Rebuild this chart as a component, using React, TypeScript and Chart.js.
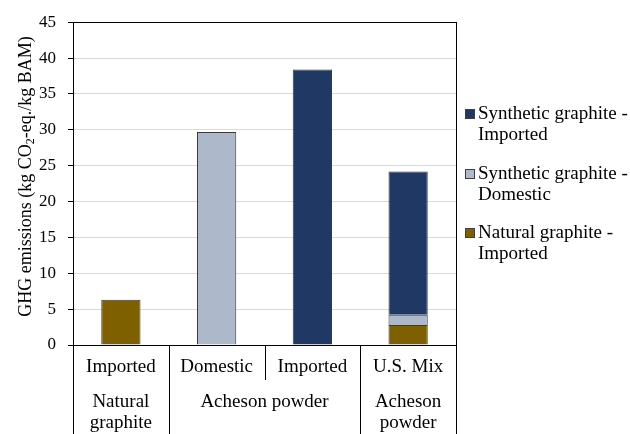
import React, { useEffect, useRef } from 'react';
import { Chart, registerables } from 'chart.js';

Chart.register(...registerables);

// ---- data ----
const categories = ['Imported', 'Domestic', 'Imported', 'U.S. Mix'];
const groupLabels = [['Natural', 'graphite'], ['Acheson powder'], ['Acheson', 'powder']];
const groupFirst = [0, 1, 3];
const groupLast = [0, 2, 3];
const naturalImported = [6.3, null, null, 2.8];
const syntheticDomestic = [null, 29.7, null, 1.4];
const syntheticImported = [null, null, 38.4, 20.0];
const seriesNames = ['Natural graphite - Imported', 'Synthetic graphite - Domestic', 'Synthetic graphite - Imported'];
const legendLines = [['Natural graphite -', 'Imported'], ['Synthetic graphite -', 'Domestic'], ['Synthetic graphite -', 'Imported']];
const yMin = 0;
const yMax = 45;
const yStep = 5;
const yTitleBefore = 'GHG emissions (kg CO';
const yTitleSub = '2';
const yTitleAfter = '-eq./kg BAM)';

const colors = ['#7F6000', '#ADB9CA', '#203864'];
const FONT = '"Liberation Serif", "Times New Roman", serif';

const decorPlugin = {
  id: 'decor',
  afterDraw(chart: any) {
    const { ctx, chartArea } = chart;
    const { left, right, top, bottom } = chartArea;
    const H = chart.height;
    const xs = chart.scales.x;
    const catW = (right - left) / categories.length;
    ctx.save();
    ctx.strokeStyle = '#000';
    ctx.lineWidth = 1;
    const line = (x1: number, y1: number, x2: number, y2: number) => {
      ctx.beginPath();
      ctx.moveTo(x1, y1);
      ctx.lineTo(x2, y2);
      ctx.stroke();
    };
    const a = (v: number) => Math.round(v) + 0.5;
    // frame: top, right, bottom axis
    line(left, a(top), right + 1, a(top));
    line(a(right), top, a(right), H);
    line(left - 5, a(bottom), right + 1, a(bottom));
    line(a(left), bottom, a(left), H);
    // group separators
    for (let g = 0; g < groupFirst.length; g++) {
      const xEnd = xs.getPixelForValue(groupLast[g]) + catW / 2;
      if (g < groupFirst.length - 1) line(a(xEnd), bottom, a(xEnd), H);
      for (let i = groupFirst[g]; i < groupLast[g]; i++) {
        const xb = xs.getPixelForValue(i) + catW / 2;
        line(a(xb), bottom, a(xb), bottom + 35);
      }
    }
    // category labels
    ctx.fillStyle = '#000';
    ctx.textAlign = 'center';
    ctx.textBaseline = 'middle';
    ctx.font = `19px ${FONT}`;
    categories.forEach((c, i) => {
      ctx.fillText(c, xs.getPixelForValue(i), bottom + 22);
    });
    groupLabels.forEach((lines, g) => {
      const cx = (xs.getPixelForValue(groupFirst[g]) + xs.getPixelForValue(groupLast[g])) / 2;
      lines.forEach((t, k) => ctx.fillText(t, cx, bottom + 57 + k * 21));
    });
    // legend (reverse order)
    const entryY = [114, 174, 233];
    const order = [2, 1, 0];
    ctx.textAlign = 'left';
    order.forEach((di, k) => {
      const y = entryY[k];
      ctx.fillStyle = colors[di];
      ctx.fillRect(465, y - 5, 10, 10);
      ctx.strokeStyle = '#404040';
      ctx.strokeRect(465.5, y - 4.5, 9, 9);
      ctx.fillStyle = '#000';
      legendLines[di].forEach((t, j) => ctx.fillText(t, 478, y + j * 21));
    });
    // y title with subscript
    ctx.translate(26, (top + bottom) / 2 - 7);
    ctx.rotate(-Math.PI / 2);
    const mainF = `18px ${FONT}`;
    const subF = `12px ${FONT}`;
    ctx.font = mainF;
    const w1 = ctx.measureText(yTitleBefore).width;
    const w3 = ctx.measureText(yTitleAfter).width;
    ctx.font = subF;
    const w2 = ctx.measureText(yTitleSub).width;
    let x = -(w1 + w2 + w3) / 2;
    ctx.textAlign = 'left';
    ctx.font = mainF;
    ctx.fillText(yTitleBefore, x, 0);
    x += w1;
    ctx.font = subF;
    ctx.fillText(yTitleSub, x, 5);
    x += w2;
    ctx.font = mainF;
    ctx.fillText(yTitleAfter, x, 0);
    ctx.restore();
  },
};

export default function App() {
  const ref = useRef<HTMLCanvasElement | null>(null);
  useEffect(() => {
    if (!ref.current) return;
    Chart.defaults.font.family = FONT;
    const chart = new Chart(ref.current, {
      type: 'bar',
      data: {
        labels: categories,
        datasets: [
          { label: seriesNames[0], data: naturalImported, backgroundColor: colors[0], borderColor: '#3a3a3a', borderWidth: 1 },
          { label: seriesNames[1], data: syntheticDomestic, backgroundColor: colors[1], borderColor: '#3a3a3a', borderWidth: 1 },
          { label: seriesNames[2], data: syntheticImported, backgroundColor: colors[2], borderColor: '#3a3a3a', borderWidth: 1 },
        ] as any,
      },
      options: {
        animation: false,
        responsive: false,
        layout: { padding: { left: 0, top: 20, right: 174, bottom: 0 } },
        datasets: { bar: { categoryPercentage: 1, barPercentage: 0.41 } },
        plugins: { legend: { display: false }, tooltip: { enabled: false } },
        scales: {
          x: {
            stacked: true,
            grid: { display: false },
            border: { display: false },
            ticks: { display: false },
            afterFit: (s: any) => { s.height = 89; },
          },
          y: {
            stacked: true,
            min: yMin,
            max: yMax,
            ticks: { stepSize: yStep, color: '#000', font: { size: 17, family: FONT }, padding: 12 },
            grid: { color: '#D9D9D9', tickColor: '#000', tickLength: 5 },
            border: { color: '#000' },
            afterFit: (s: any) => { s.width = 73; },
          },
        },
      } as any,
      plugins: [decorPlugin],
    });
    return () => chart.destroy();
  }, []);
  return (
    <div style={{ position: 'absolute', left: 0, top: 0, width: 630, height: 434, background: '#fff' }}>
      <canvas ref={ref} width={630} height={434} style={{ display: 'block' }} />
    </div>
  );
}
